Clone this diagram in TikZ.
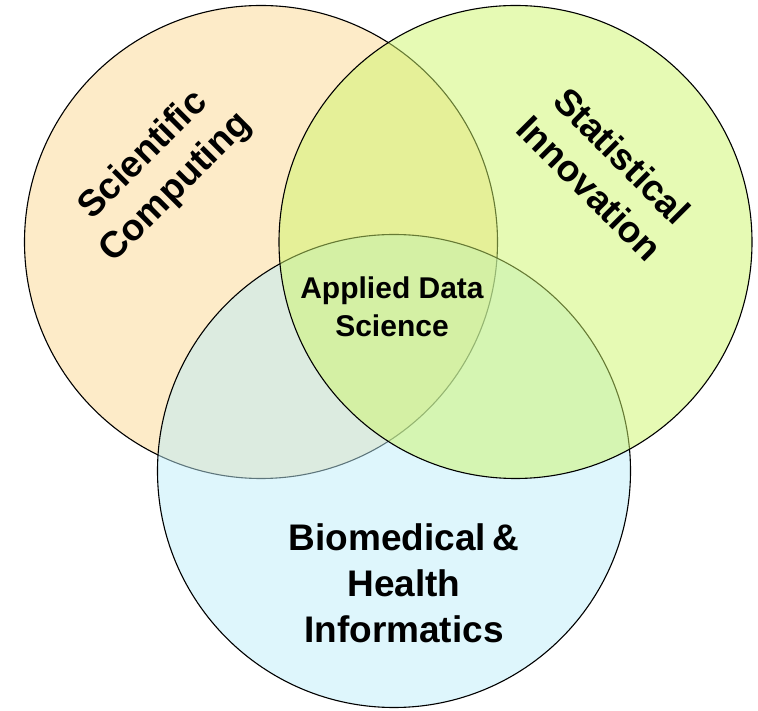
\documentclass[tikz,border=0pt]{standalone}
\usepackage{fontspec}
\setmainfont{Liberation Sans}
\definecolor{scfill}{RGB}{251,215,145}
\definecolor{sifill}{RGB}{205,245,105}
\definecolor{bhfill}{RGB}{189,237,249}
\tikzset{
  set/.style={circle, draw=black, line width=1.1pt, minimum size=473pt, inner sep=0pt, fill opacity=0.5},
  setname/.style={font=\bfseries\fontsize{37}{46}\selectfont, align=center},
  core/.style={font=\bfseries\fontsize{30}{38}\selectfont, align=center}
}
\begin{document}
\begin{tikzpicture}[x=1pt, y=1pt]
	\useasboundingbox (0,0) rectangle (758,710);
	\node(sc)[set, fill=scfill] at (261,468){};
	\node(bh)[set, fill=bhfill] at (394,239){};
	\node(si)[set, fill=sifill] at (515.5,468){};
	\node(scl)[setname, rotate=45] at (160,538){Scientific\\Computing};
	\node(sil)[setname, rotate=-45] at (606,538){Statistical\\Innovation};
	\node(bhl)[setname] at (404,127){Biomedical\,\&\\Health\\Informatics};
	\node(ads)[core] at (392,403){Applied Data\\Science};
\end{tikzpicture}
\end{document}
